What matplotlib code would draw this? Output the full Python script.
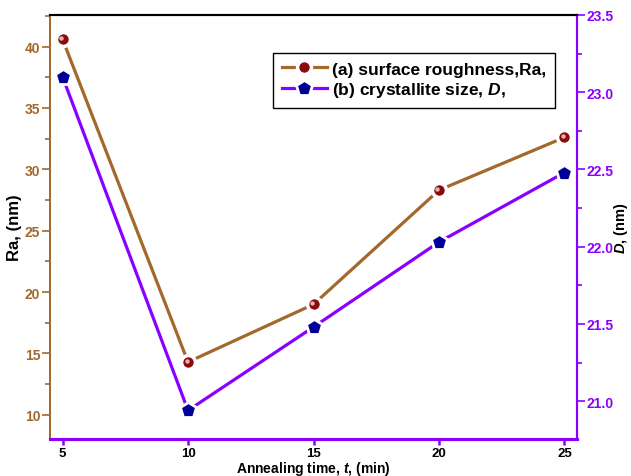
import matplotlib
matplotlib.use("Agg")
import matplotlib.pyplot as plt
import matplotlib.transforms as mtransforms
from matplotlib.ticker import MultipleLocator

plt.rcParams['font.family'] = ['Liberation Sans', 'DejaVu Sans']
plt.rcParams['mathtext.fontset'] = 'custom'
plt.rcParams['mathtext.rm'] = 'Liberation Sans:weight=bold'
plt.rcParams['mathtext.bf'] = 'Liberation Sans:style=italic:weight=bold'
plt.rcParams['mathtext.it'] = 'Liberation Sans:style=italic:weight=bold'

time_min = [5, 10, 15, 20, 25]
roughness_ra = [40.6, 14.3, 19.0, 28.3, 32.6]
crystallite_d = [23.10, 20.94, 21.48, 22.03, 22.48]

x_ticks = [5, 10, 15, 20, 25]
left_ticks = [10, 15, 20, 25, 30, 35, 40]
right_ticks = [21.0, 21.5, 22.0, 22.5, 23.0, 23.5]

brown = "#A3682C"
purple = "#8A00FF"
navy = "#000099"
dark_red = "#8B0A0A"

fig = plt.figure(figsize=(6.31, 4.77), dpi=100)
ax = fig.add_axes([50/631, 1-440/477, 527/631, 424/477])
ax2 = ax.twinx()

# Ra series
l1, = ax.plot(time_min, roughness_ra, color=brown, lw=2.3, marker='o', ms=10,
              markerfacecolor=dark_red, markeredgecolor='white', markeredgewidth=2.5,
              zorder=3, label='(a) surface roughness,Ra,')
# highlight for sphere look
hl_tr = mtransforms.offset_copy(ax.transData, fig=fig, x=-1.5, y=1.5, units='dots')
ax.plot(time_min, roughness_ra, ls='none', marker='o', ms=3.2, color='#E8B0B0',
        markeredgewidth=0, transform=hl_tr, zorder=4)

# D series
l2, = ax2.plot(time_min, crystallite_d, color=purple, lw=2.3, marker='p', ms=12,
               markerfacecolor=navy, markeredgecolor='white', markeredgewidth=2.0,
               zorder=3, label='(b) crystallite size, $\\mathit{D}$,')

ax.set_xlim(4.5, 25.5)
ax.set_ylim(8.03, 42.57)
ax2.set_ylim(20.755, 23.5)

ax.set_xticks(x_ticks)
ax.set_yticks(left_ticks)
ax.yaxis.set_minor_locator(MultipleLocator(2.5))
ax2.set_yticks(right_ticks)
ax2.set_yticklabels([f"{v:.1f}" for v in right_ticks])
ax2.yaxis.set_minor_locator(MultipleLocator(0.25))

# spines
for a in (ax, ax2):
    a.spines['top'].set_color('black')
    a.spines['top'].set_linewidth(1.5)
    a.spines['bottom'].set_color(purple)
    a.spines['bottom'].set_linewidth(2.2)
    a.spines['left'].set_color(brown)
    a.spines['left'].set_linewidth(1.3)
    a.spines['right'].set_color(purple)
    a.spines['right'].set_linewidth(1.5)

ax.tick_params(axis='y', which='major', direction='out', length=6, width=1.2,
               color=brown, labelcolor=brown, labelsize=10, pad=1)
ax.tick_params(axis='y', which='minor', direction='out', length=3.5, width=1.2, color=brown)
ax.tick_params(axis='x', which='major', direction='out', length=4.5, width=1.8,
               color=purple, labelcolor='black', labelsize=9.5, pad=1)
ax2.tick_params(axis='y', which='major', direction='out', length=6, width=1.2,
                color=purple, labelcolor=purple, labelsize=10, pad=1)
ax2.tick_params(axis='y', which='minor', direction='out', length=3.5, width=1.2, color=purple)

for lab in ax.get_xticklabels() + ax.get_yticklabels() + ax2.get_yticklabels():
    lab.set_fontweight('bold')

ax.set_xlabel('Annealing time, $\\mathit{t}$, (min)', fontsize=10,
              fontweight='bold', labelpad=0)
ax.set_ylabel('Ra, (nm)', fontsize=12, fontweight='bold', labelpad=2)
ax2.set_ylabel('$\\mathit{D}$, (nm)', fontsize=10.5, fontweight='bold', labelpad=-1)

leg = ax2.legend(handles=[l1, l2], loc='upper left', bbox_to_anchor=(0.423, 0.911),
                 borderaxespad=0, fancybox=False, edgecolor='black', framealpha=1,
                 prop={'weight': 'bold', 'size': 12.5}, handlelength=2.6,
                 handletextpad=0.3, borderpad=0.5, labelspacing=0.2)
leg.get_frame().set_linewidth(1.0)

fig.savefig('out.png', dpi=100)
